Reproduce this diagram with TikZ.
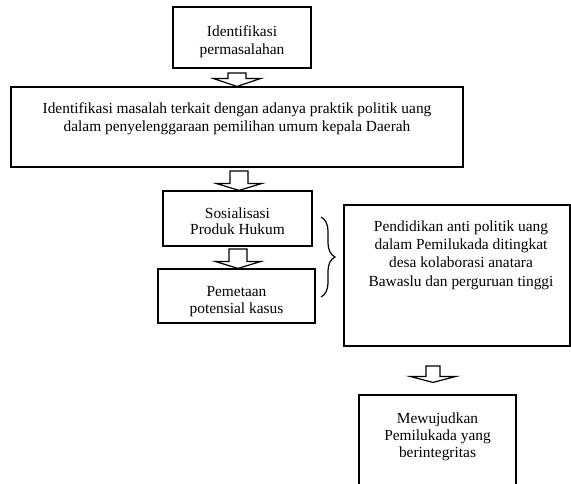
\documentclass[tikz,border=0pt]{standalone}
\usepackage{fontspec}
\setmainfont{Liberation Serif}
\usetikzlibrary{calc,decorations.pathreplacing}
\newcommand{\blockarr}[5]{\draw[barrow] let \p1=(#1), \p2=(#2) in
  (\x1-#3,\y1) -- (\x1+#3,\y1) -- (\x1+#3,\y2+#5) -- (\x1+#4,\y2+#5) --
  (\x1,\y2) -- (\x1-#4,\y2+#5) -- (\x1-#3,\y2+#5) -- cycle;}
\begin{document}
\begin{tikzpicture}[x=1pt,y=-1pt,
  box/.style={draw,line width=1.2pt,inner sep=0pt,minimum width=#1},
  txt/.style={align=center,inner sep=0pt,anchor=north,font=\fontsize{15.4}{18}\selectfont},
  txts/.style={align=center,inner sep=0pt,anchor=north,font=\fontsize{15.4}{16.5}\selectfont},
  barrow/.style={draw,fill=white,line width=1.2pt,line join=miter},
  bracestyle/.style={draw,line width=1.2pt,decorate,decoration={brace,amplitude=14pt}}]
\useasboundingbox (0,0) rectangle (571,483);
\clip (0,0) rectangle (571,483);
% boxes
\node[box=138pt,minimum height=61pt] (b1) at (242,37.5) {};
\node[box=452pt,minimum height=80pt] (b2) at (237,127) {};
\node[box=149pt,minimum height=55pt] (b3) at (237.5,218.5) {};
\node[box=157pt,minimum height=54pt] (b4) at (236.5,296) {};
\node[box=226pt,minimum height=141pt] (b6) at (457,275.5) {};
\node[box=157pt,minimum height=110pt] (b5) at (437.5,450) {};
% texts
\node[txt] (t1) at (242,25.5) {Identifikasi\\permasalahan};
\node[txt] (t2) at (237,102.5) {Identifikasi masalah terkait dengan adanya praktik politik uang\\dalam penyelenggaraan pemilihan umum kepala Daerah};
\node[txts] (t3) at (237.5,207.5) {Sosialisasi\\Produk Hukum};
\node[txts] (t4) at (236.5,286.5) {Pemetaan\\potensial kasus};
\node[txt,font=\fontsize{15.4}{18.3}\selectfont] (t6) at (461,220.5) {Pendidikan anti politik uang\\dalam Pemilukada ditingkat\\desa kolaborasi anatara\\Bawaslu dan perguruan tinggi};
\node[txt,font=\fontsize{15.4}{17}\selectfont] (t5) at (437.5,412.5) {Mewujudkan\\Pemilukada yang\\berintegritas};
% block arrows
\coordinate (a1t) at (237,73);
\coordinate (a2t) at (239,171);
\coordinate (a3t) at (238,249);
\coordinate (a4t) at (433,366);
\coordinate (a4h) at ([yshift=12pt]b5.north);
\blockarr{a1t}{a1t |- b2.north}{9pt}{24pt}{8pt}
\blockarr{a2t}{a2t |- b3.north}{9pt}{23pt}{7pt}
\blockarr{a3t}{a3t |- b4.north}{9pt}{23pt}{7pt}
\blockarr{a4t}{a4t |- a4h}{7pt}{23pt}{6pt}
% brace
\coordinate (brt) at (321,217);
\coordinate (brb) at (321,297);
\draw[bracestyle] (brt) -- (brb);
\end{tikzpicture}
\end{document}
